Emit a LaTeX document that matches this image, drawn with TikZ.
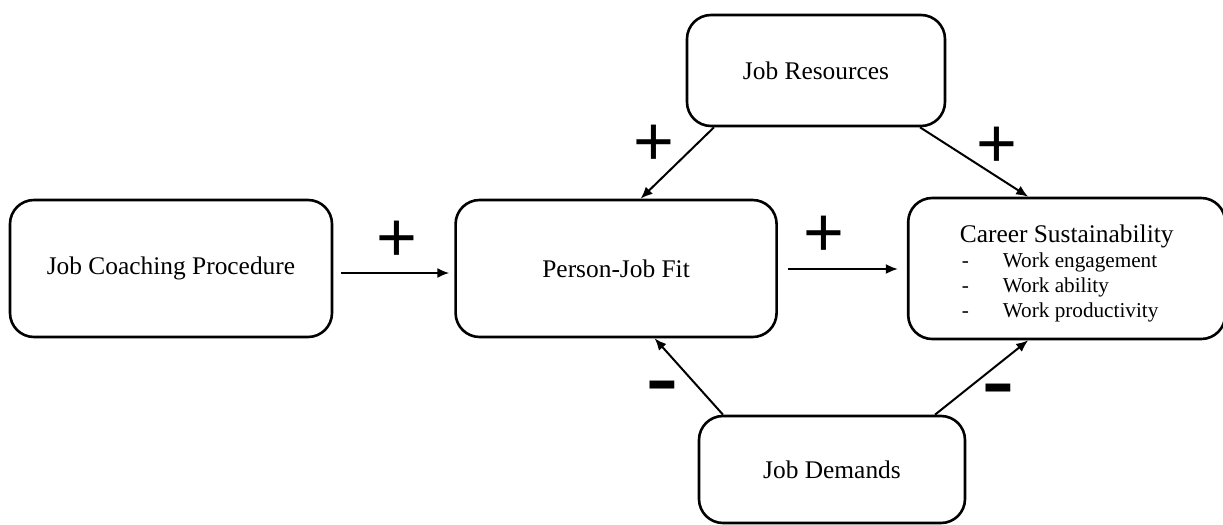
\documentclass[tikz,border=0pt]{standalone}
\usepackage{fontspec}
\usepackage{graphicx}
\usepackage{array}
\setmainfont{Liberation Serif}
\newfontfamily\signfont{Liberation Sans}
\newcommand\listfont{\fontsize{10.6}{12.5}\selectfont}
\usetikzlibrary{positioning,arrows.meta}

\begin{document}
\begin{tikzpicture}[
  x=0.5pt, y=-0.5pt,
  box/.style={draw, line width=1.3pt, rounded corners=12pt, inner sep=0pt,
    minimum height=68.5pt, align=center, font=\fontsize{12.7}{12.5}\selectfont},
  plus/.style={inner sep=0pt, font=\signfont\fontsize{35}{35}\selectfont},
  minus/.style={inner sep=0pt, font=\signfont\bfseries\fontsize{25}{25}\selectfont},
  link/.style={->, line width=1pt},
  >={Latex[length=6pt,width=5pt]}
]
  \useasboundingbox (0,0) rectangle (1223,525);

  \node[box, minimum width=161pt] (A) at (171,268.5) {Job Coaching Procedure};
  \node[box, minimum width=160.5pt, right=60.5pt of A] (B) {Person-Job Fit};
  \node[box, minimum width=158.5pt, minimum height=70.5pt, right=64.5pt of B] (C) {%
    \raisebox{-3pt}[\height][\depth]{%
    \begin{tabular}{@{\hspace{7pt}}>{\listfont}l@{\hspace{17pt}}>{\listfont}l@{}}
      \multicolumn{2}{c}{Career Sustainability}\\
      - & Work engagement\\
      - & Work ability\\
      - & Work productivity
    \end{tabular}}};
  \node[box, minimum width=129pt, minimum height=55.5pt] (D) at (816,70.5) {Job Resources};
  \node[box, minimum width=133pt, minimum height=53.5pt] (E) at (832,469.5) {Job Demands};

  \draw[link, shorten >=2.5pt] ([xshift=4pt,yshift=-2.25pt]A.east) -- ([yshift=-2.25pt]B.west);
  \draw[link, shorten >=4.5pt] ([xshift=5pt,yshift=-0.25pt]B.east) -- ([yshift=-0.25pt]C.west);
  \draw[link] ([xshift=-51pt]D.south) -- ([xshift=12.25pt]B.north);
  \draw[link] ([xshift=52pt]D.south) -- ([xshift=-19.25pt]C.north);
  \draw[link] ([xshift=-54.5pt]E.north) -- ([xshift=19.25pt]B.south);
  \draw[link] ([xshift=51.5pt]E.north) -- ([xshift=-19.25pt]C.south);

  \node[plus] (p1) at (397,241) {+};
  \node[plus] (p2) at (654,145) {+};
  \node[plus] (p3) at (997,147) {+};
  \node[plus] (p4) at (824,236) {+};
  \node[minus] (m1) at (662,394) {\scalebox{1}[1.6]{–}};
  \node[minus] (m2) at (998,397) {\scalebox{1}[1.6]{–}};
\end{tikzpicture}
\end{document}
